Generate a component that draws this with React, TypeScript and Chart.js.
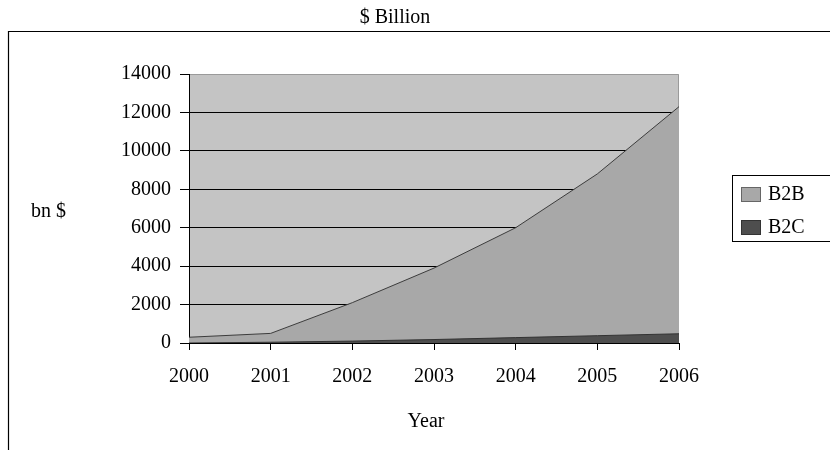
import React, { useEffect, useRef } from 'react';
import { Chart, registerables } from 'chart.js';

Chart.register(...registerables);

const years = ['2000', '2001', '2002', '2003', '2004', '2005', '2006'];
const b2bValues = [300, 500, 2100, 3900, 6000, 8800, 12300];
const b2cValues = [0, 40, 100, 180, 280, 380, 480];
const seriesNames = ['B2B', 'B2C'];
const titleText = '$ Billion';
const yAxisLabel = 'bn $';
const xAxisLabel = 'Year';
const yMin = 0;
const yMax = 14000;
const yStep = 2000;

const FONT = "'Liberation Serif', 'Times New Roman', serif";
const PLOT_BG = '#c4c4c4';
const B2B_FILL = '#a8a8a8';
const B2C_FILL = '#4e4e4e';

const decorPlugin = {
  id: 'decor',
  beforeDraw(chart: any) {
    const { ctx, chartArea } = chart;
    ctx.save();
    ctx.fillStyle = '#ffffff';
    ctx.fillRect(0, 0, chart.width, chart.height);
    // outer frame (top & left)
    ctx.strokeStyle = '#000';
    ctx.lineWidth = 1.2;
    ctx.beginPath();
    ctx.moveTo(8.5, 450);
    ctx.lineTo(8.5, 31.5);
    ctx.lineTo(830, 31.5);
    ctx.stroke();
    // plot background
    ctx.fillStyle = PLOT_BG;
    ctx.fillRect(chartArea.left, chartArea.top, chartArea.right - chartArea.left, chartArea.bottom - chartArea.top);
    ctx.strokeStyle = '#9a9a9a';
    ctx.lineWidth = 1;
    ctx.beginPath();
    ctx.moveTo(chartArea.left, chartArea.top + 0.5);
    ctx.lineTo(chartArea.right - 0.5, chartArea.top + 0.5);
    ctx.lineTo(chartArea.right - 0.5, chartArea.bottom);
    ctx.stroke();
    ctx.restore();
  },
  afterDraw(chart: any) {
    const { ctx } = chart;
    ctx.save();
    ctx.fillStyle = '#000';
    ctx.font = `20px ${FONT}`;
    ctx.textAlign = 'center';
    ctx.textBaseline = 'alphabetic';
    ctx.fillText(titleText, 395, 23);
    ctx.fillText(xAxisLabel, 426, 427);
    ctx.textBaseline = 'middle';
    ctx.textAlign = 'left';
    ctx.fillText(yAxisLabel, 31, 212);
    // legend box
    ctx.strokeStyle = '#000';
    ctx.lineWidth = 1;
    ctx.strokeRect(732.5, 175.5, 110, 66);
    const fills = [B2B_FILL, B2C_FILL];
    const borders = ['#666', '#333'];
    const ys = [187, 220];
    chart.data.datasets.forEach((ds: any, i: number) => {
      ctx.fillStyle = fills[i];
      ctx.fillRect(741, ys[i], 20, 15);
      ctx.strokeStyle = borders[i];
      ctx.strokeRect(741.5, ys[i] + 0.5, 19, 14);
      ctx.fillStyle = '#000';
      ctx.fillText(ds.label, 768, ys[i] + 8);
    });
    ctx.restore();
  },
};

export default function App() {
  const ref = useRef<HTMLCanvasElement>(null);
  useEffect(() => {
    if (!ref.current) return;
    const chart = new Chart(ref.current, {
      type: 'line',
      data: {
        labels: years,
        datasets: [
          {
            label: seriesNames[0],
            data: b2bValues,
            fill: 'origin',
            backgroundColor: B2B_FILL,
            borderColor: '#3c3c3c',
            borderWidth: 1,
            pointRadius: 0,
            tension: 0,
            order: 2,
          },
          {
            label: seriesNames[1],
            data: b2cValues,
            fill: 'origin',
            backgroundColor: B2C_FILL,
            borderColor: '#333',
            borderWidth: 1,
            pointRadius: 0,
            tension: 0,
            order: 1,
          },
        ],
      },
      options: {
        responsive: false,
        animation: false,
        layout: { padding: { left: 0, right: 151, top: 74, bottom: 0 } },
        plugins: {
          legend: { display: false },
          tooltip: { enabled: false },
          title: { display: false },
        },
        scales: {
          x: {
            type: 'category',
            offset: false,
            grid: { drawOnChartArea: false, drawTicks: true, tickLength: 7, color: '#000', tickColor: '#000' },
            border: { color: '#000', width: 1 },
            ticks: { color: '#000', font: { family: FONT, size: 20 }, padding: 15, maxRotation: 0, autoSkip: false },
            afterFit: (scale: any) => {
              scale.height = 107;
            },
          },
          y: {
            min: yMin,
            max: yMax,
            ticks: {
              stepSize: yStep,
              color: '#000',
              font: { family: FONT, size: 20 },
              padding: 9,
              callback: (v: any) => String(v),
            },
            grid: {
              color: (c: any) => (c.tick && c.tick.value === yMax ? 'rgba(0,0,0,0)' : '#000'),
              tickColor: '#000',
              tickLength: 9,
              lineWidth: 1,
            },
            border: { color: '#000', width: 1 },
            afterFit: (scale: any) => {
              scale.width = 189;
            },
          },
        },
      },
      plugins: [decorPlugin],
    });
    return () => chart.destroy();
  }, []);
  return (
    <div style={{ position: 'absolute', left: 0, top: 0, width: 830, height: 450 }}>
      <canvas ref={ref} width={830} height={450} />
    </div>
  );
}
